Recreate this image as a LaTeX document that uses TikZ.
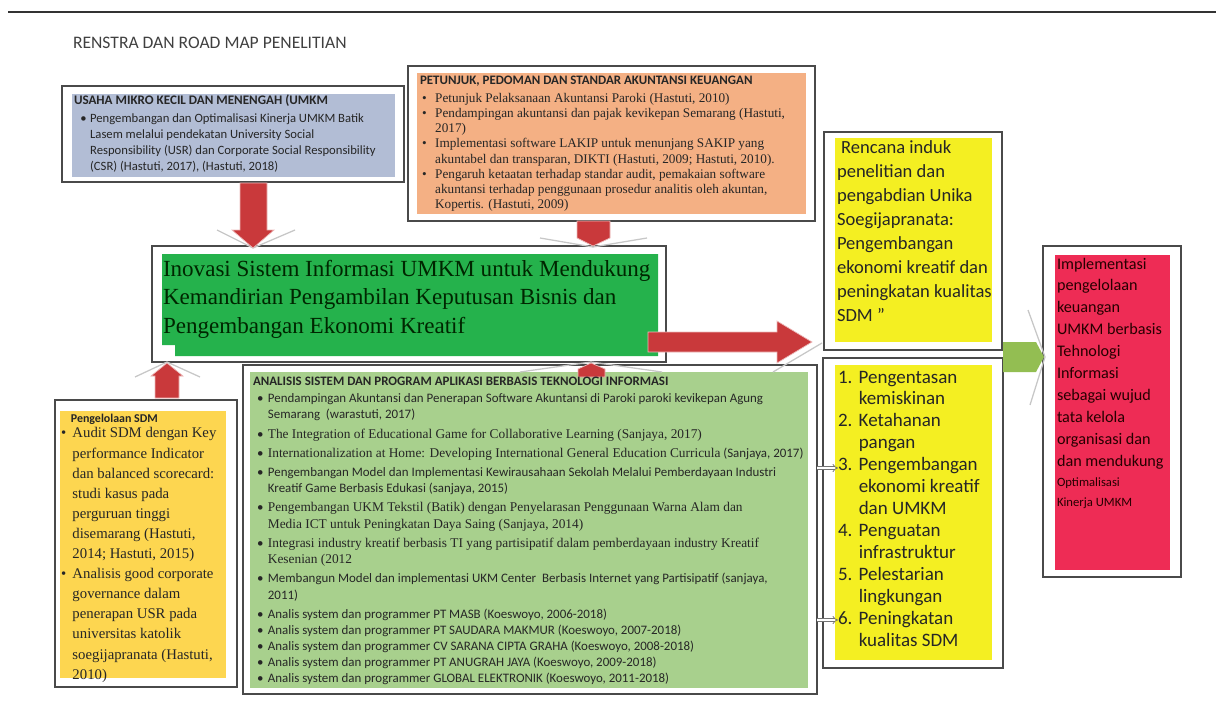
\documentclass[tikz,border=0pt]{standalone}
\usepackage{fontspec}
\setmainfont{Liberation Serif}
\setsansfont{Carlito}
\usetikzlibrary{arrows.meta}

\definecolor{umkmfill}{HTML}{B2BDD5}
\definecolor{pedofill}{HTML}{F4B084}
\definecolor{mainfill}{HTML}{25B24C}
\definecolor{sdmfill}{HTML}{FDD650}
\definecolor{analfill}{HTML}{A8D08D}
\definecolor{planfill}{HTML}{F4EF22}
\definecolor{implfill}{HTML}{EE2C55}
\definecolor{arrred}{HTML}{C9393B}
\definecolor{arrgreen}{HTML}{93BE52}
\definecolor{edge}{HTML}{4A4A4A}

\newcommand{\bu}{\textbullet}
\newcommand{\rs}{\rmfamily\fontsize{9.5}{11.5}\selectfont}

\begin{document}
\begin{tikzpicture}[x=0.025cm,y=-0.025cm]
	\tikzset{boxedge/.style={draw=edge,line width=1.2pt},
		txt/.style={anchor=base west,inner sep=0pt,outer sep=0pt},
		redarrow/.style={fill=arrred,draw=arrred!35!white,line width=0.5pt},
		chevron/.style={draw=black!22,line width=0.9pt}}
	\def\isep{2.2pt}
	\useasboundingbox (0,0) rectangle (1216,709);
	% header
	\draw[black!80,line width=1pt] (8,12) -- (1216,12);
	\node[txt,text=black!75] (judul) at (73,49) {\sffamily\fontsize{12.5}{14}\selectfont RENSTRA DAN ROAD MAP PENELITIAN};
	% fills
	\fill[umkmfill] (72,94) rectangle (395,177);
	\fill[pedofill] (417,73) rectangle (806,214);
	\fill[mainfill] (162,254) -- (658,254) -- (658,356) -- (175,356) -- (175,345) -- (162,345) -- cycle;
	\fill[sdmfill] (60,411) rectangle (226,678);
	\fill[analfill] (250,372) rectangle (808,688);
	\fill[planfill] (835,138) rectangle (992,342);
	\fill[planfill] (835,365) rectangle (992,660);
	\fill[implfill] (1055,255) rectangle (1170,570);
	% frames
	\draw[boxedge] (62,86) rectangle (404,182);
	\draw[boxedge] (408,66) rectangle (815,221);
	\draw[boxedge] (152,246) rectangle (666,362);
	\draw[boxedge] (55,400) rectangle (237,687);
	\draw[boxedge] (243,365) rectangle (817,694);
	\draw[boxedge] (824,132) rectangle (1002,350);
	\draw[boxedge] (823,358) rectangle (1003,668);
	\draw[boxedge] (1043,246) rectangle (1181,577);
	% block arrows into the main box
	\draw[chevron] (217,230) -- (253,248) -- (295,230);
	\path[redarrow] (240,183) -- (267,183) -- (267,230) -- (274,230) -- (253,248) -- (232,230) -- (240,230) -- cycle;
	\draw[chevron] (540,238) -- (593,247) -- (647,238);
	\path[redarrow] (577,221) -- (610,221) -- (610,238) -- (593,246) -- (577,238) -- cycle;
	\draw[chevron] (135,377) -- (167,362) -- (200,377);
	\path[redarrow] (155,398) -- (155,376) -- (151,376) -- (167,363) -- (183,376) -- (179,376) -- (179,398) -- cycle;
	\draw[chevron] (520,372) -- (591,362) -- (662,372);
	\path[redarrow] (578,377) -- (578,369) -- (591,363) -- (605,369) -- (605,377) -- cycle;
	% main box to the plan
	\path[redarrow] (648,332) -- (777,332) -- (777,321) -- (812,342) -- (777,363) -- (777,352) -- (648,352) -- cycle;
	\draw[chevron] (773,372) -- (822,343);
	% plan to implementation
	\draw[chevron] (1028,310) -- (1045,357) -- (1030,405);
	\fill[arrgreen] (1003,342) -- (1036,342) -- (1044,357) -- (1036,372) -- (1003,372) -- cycle;
	% analysis to priorities
	\coordinate (analA) at (817,468);
	\coordinate (progA) at (838,468);
	\coordinate (analB) at (817,620);
	\coordinate (progB) at (838,620);
	\draw[black!55,line width=0.5pt,double=white,double distance=1.5pt,-{Implies}] (analA) -- (progA);
	\draw[black!55,line width=0.5pt,double=white,double distance=1.5pt,-{Implies}] (analB) -- (progB);
	% texts
	\node[txt,text=black!85] (umkm) at (74,105) {\sffamily\fontsize{9}{11.4}\selectfont
		\begin{tabular}[t]{@{\hspace{4.5pt}}l@{\hspace{2.5pt}}l@{}}
		\multicolumn{2}{@{}l@{}}{\bfseries\fontsize{9.3}{11.4}\selectfont USAHA MIKRO KECIL DAN MENENGAH (UMKM}\\[0.8pt]
		\bu & Pengembangan dan Optimalisasi Kinerja UMKM Batik\\
		& Lasem melalui pendekatan University Social\\
		& Responsibility (USR) dan Corporate Social Responsibility\\
		& (CSR) (Hastuti, 2017), (Hastuti, 2018)
		\end{tabular}};
	\node[txt,text=black!85] (pedoman) at (420,85) {\rmfamily\fontsize{9.4}{10.7}\selectfont
		\begin{tabular}[t]{@{\hspace{1.5pt}}l@{\hspace{6pt}}l@{}}
		\multicolumn{2}{@{}l@{}}{\sffamily\bfseries\fontsize{9.2}{10.7}\selectfont PETUNJUK, PEDOMAN DAN STANDAR AKUNTANSI KEUANGAN}\\[2pt]
		\bu & Petunjuk Pelaksanaan Akuntansi Paroki (Hastuti, 2010)\\
		\bu & Pendampingan akuntansi dan pajak kevikepan Semarang (Hastuti,\\
		& 2017)\\
		\bu & Implementasi software LAKIP untuk menunjang SAKIP yang\\
		& akuntabel dan transparan, DIKTI (Hastuti, 2009; Hastuti, 2010).\\
		\bu & Pengaruh ketaatan terhadap standar audit, pemakaian software\\
		& akuntansi terhadap penggunaan prosedur analitis oleh akuntan,\\
		& Kopertis. (Hastuti, 2009)
		\end{tabular}};
	\node[txt,text=black!85!green] (inovasi) at (163,276) {\rmfamily\fontsize{16.4}{20.6}\selectfont
		\begin{tabular}[t]{@{}l@{}}
		Inovasi Sistem Informasi UMKM untuk Mendukung\\
		Kemandirian Pengambilan Keputusan Bisnis dan\\
		Pengembangan Ekonomi Kreatif
		\end{tabular}};
	\node[txt,text=black!85] (sdm) at (61,422) {\rmfamily\fontsize{10.5}{14.3}\selectfont
		\begin{tabular}[t]{@{}l@{\hspace{4.5pt}}l@{}}
		\multicolumn{2}{@{\hspace{7pt}}l@{}}{\sffamily\bfseries\fontsize{8.5}{10}\selectfont Pengelolaan SDM}\\[-3pt]
		\bu & Audit SDM dengan Key\\
		& performance Indicator\\
		& dan balanced scorecard:\\
		& studi kasus pada\\
		& perguruan tinggi\\
		& disemarang (Hastuti,\\
		& 2014; Hastuti, 2015)\\
		\bu & Analisis good corporate\\
		& governance dalam\\
		& penerapan USR pada\\
		& universitas katolik\\
		& soegijapranata (Hastuti,\\
		& 2010)
		\end{tabular}};
	\node[txt,text=black!85] (analisis) at (253,385) {\sffamily\fontsize{9.2}{11.5}\selectfont
		\begin{tabular}[t]{@{\hspace{3pt}}l@{\hspace{3pt}}l@{}}
		\multicolumn{2}{@{}l@{}}{\bfseries\fontsize{9.2}{11.5}\selectfont ANALISIS SISTEM DAN PROGRAM APLIKASI BERBASIS TEKNOLOGI INFORMASI}\\[1pt]
		\bu & Pendampingan Akuntansi dan Penerapan Software Akuntansi di Paroki paroki kevikepan Agung\\
		& Semarang\ \ (warastuti, 2017)\\[\isep]
		\bu & \rs The Integration of Educational Game for Collaborative Learning (Sanjaya, 2017)\\[\isep]
		\bu & {\rs Internationalization at Home: Developing International General Education Curricula} (Sanjaya, 2017)\\[\isep]
		\bu & Pengembangan Model dan Implementasi Kewirausahaan Sekolah Melalui Pemberdayaan Industri\\
		& Kreatif Game Berbasis Edukasi (sanjaya, 2015)\\[\isep]
		\bu & \rs Pengembangan UKM Tekstil (Batik) dengan Penyelarasan Penggunaan Warna Alam dan\\
		& \rs Media ICT untuk Peningkatan Daya Saing (Sanjaya, 2014)\\[\isep]
		\bu & \rs Integrasi industry kreatif berbasis TI yang partisipatif dalam pemberdayaan industry Kreatif\\
		& \rs Kesenian (2012\\[\isep]
		\bu & Membangun Model dan implementasi UKM Center\ \ Berbasis Internet yang Partisipatif (sanjaya,\\
		& 2011)\\[\isep]
		\bu & Analis system dan programmer PT MASB (Koeswoyo, 2006-2018)\\
		\bu & Analis system dan programmer PT SAUDARA MAKMUR (Koeswoyo, 2007-2018)\\
		\bu & Analis system dan programmer CV SARANA CIPTA GRAHA (Koeswoyo, 2008-2018)\\
		\bu & Analis system dan programmer PT ANUGRAH JAYA (Koeswoyo, 2009-2018)\\
		\bu & Analis system dan programmer GLOBAL ELEKTRONIK (Koeswoyo, 2011-2018)
		\end{tabular}};
	\node[txt,text=black!85] (rencana) at (837,154) {\sffamily\fontsize{13.2}{17}\selectfont
		\begin{tabular}[t]{@{}l@{}}
		\ Rencana induk\\
		penelitian dan\\
		pengabdian Unika\\
		Soegijapranata:\\
		Pengembangan\\
		ekonomi kreatif dan\\
		peningkatan kualitas\\
		SDM ''
		\end{tabular}};
	\node[txt,text=black!85] (prioritas) at (838,383) {\sffamily\fontsize{13.5}{15.6}\selectfont
		\begin{tabular}[t]{@{}l@{\hspace{4.5pt}}l@{}}
		1. & Pengentasan\\
		& kemiskinan\\
		2. & Ketahanan\\
		& pangan\\
		3. & Pengembangan\\
		& ekonomi kreatif\\
		& dan UMKM\\
		4. & Penguatan\\
		& infrastruktur\\
		5. & Pelestarian\\
		& lingkungan\\
		6. & Peningkatan\\
		& kualitas SDM
		\end{tabular}};
	\node[txt,text=black!85!red] (implementasi) at (1057,269) {\sffamily\fontsize{11.5}{15.6}\selectfont
		\begin{tabular}[t]{@{}l@{}}
		Implementasi\\
		pengelolaan\\
		keuangan\\
		UMKM berbasis\\
		Tehnologi\\
		Informasi\\
		sebagai wujud\\
		tata kelola\\
		organisasi dan\\
		dan mendukung\\[-1pt]
		{\fontsize{9}{11}\selectfont Optimalisasi}\\[-1.5pt]
		{\fontsize{9}{11}\selectfont Kinerja UMKM}
		\end{tabular}};
\end{tikzpicture}
\end{document}
